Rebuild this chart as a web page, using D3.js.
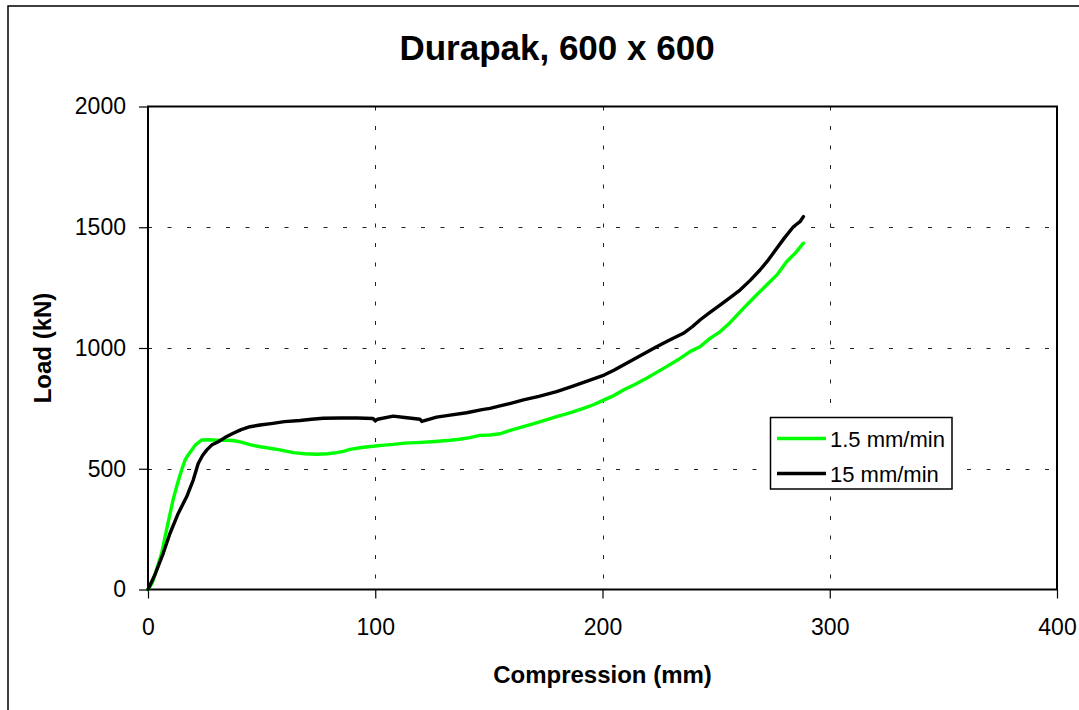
<!DOCTYPE html>
<html><head><meta charset="utf-8">
<script src="https://cdn.jsdelivr.net/npm/d3@7"></script>
<style>
html,body{margin:0;padding:0;background:#fff;}
svg{display:block;font-family:"Liberation Sans",Arial,sans-serif;}
</style></head>
<body>
<svg id="chart" width="1079" height="710"></svg>
<script>
const chartTitle = "Durapak, 600 x 600";
const xTitle = "Compression (mm)";
const yTitle = "Load (kN)";
const xTicks = [0, 100, 200, 300, 400];
const yTicks = [0, 500, 1000, 1500, 2000];
const seriesNames = ["1.5 mm/min", "15 mm/min"];
const seriesColors = ["#00ff00", "#000000"];

const slowX = [0, 2, 4, 6, 8, 11, 13, 14.8, 16.3, 17.5, 19.2, 21, 23.6, 27, 30, 34, 37.5, 41, 44.9, 49.3, 53.7, 58, 63.9, 69, 74.2, 79, 83, 86, 88.9, 94, 100, 104, 107.9, 113, 118.2, 125, 132.9, 137, 141.7, 146, 150.5, 155, 158, 165.2, 172, 179.8, 186, 191.6, 196, 200.7, 205, 209.2, 214, 219.4, 224, 228.2, 233, 238.5, 242.9, 247.3, 251.7, 256.1, 262, 267, 272.2, 277, 281, 285, 288.4];
const slowY = [0, 30, 90, 150, 240, 370, 440, 495, 536, 555, 577, 600, 619, 620, 618, 618, 617, 610, 600, 591, 585, 578, 567, 562, 560, 562, 567, 572, 580, 588, 594, 598, 601, 606, 608, 612, 618, 622, 629, 638, 640, 645, 655, 674, 693, 716, 732, 750, 765, 785, 803, 826, 848, 875, 900, 923, 950, 985, 1005, 1040, 1067, 1105, 1164, 1212, 1261, 1305, 1357, 1395, 1434];

const fastX = [0, 3, 6.7, 9.7, 13.3, 17, 19.9, 22.1, 24, 25.8, 28, 30.9, 34, 37.5, 41, 44.9, 49.3, 55, 60, 66.9, 72, 77.1, 85, 92, 99, 100, 101, 107.9, 113, 119.7, 120.5, 127, 133, 140.2, 147, 150.5, 154.9, 160, 165.2, 172, 179.8, 187, 194.5, 200.7, 205, 209.2, 216, 223.8, 230, 235.6, 239.5, 242.9, 247, 251.7, 256, 260.5, 265, 269.3, 273, 276.7, 280, 284, 286.9, 288.4];
const fastY = [0, 60, 150, 233, 315, 384, 453, 522, 555, 577, 598, 612, 630, 647, 662, 674, 681, 688, 695, 700, 705, 709, 710, 710, 708, 698, 705, 718, 712, 705, 696, 714, 722, 732, 745, 750, 760, 772, 785, 800, 819, 842, 867, 888, 908, 930, 965, 1005, 1035, 1061, 1088, 1116, 1145, 1178, 1208, 1240, 1280, 1323, 1365, 1413, 1455, 1502, 1523, 1544];

const svg = d3.select("#chart");
const W = 1079, H = 710;
const plot = {left: 148, top: 106.5, right: 1057, bottom: 589.5};

svg.append("rect").attr("width", W).attr("height", H).attr("fill", "#fff");
// outer chart frame
svg.append("rect").attr("x", 8).attr("y", 6).attr("width", 1110).attr("height", 720)
  .attr("fill", "none").attr("stroke", "#000").attr("stroke-width", 1.5);

const x = d3.scaleLinear().domain([0, 400]).range([plot.left, plot.right]);
const y = d3.scaleLinear().domain([0, 2000]).range([plot.bottom, plot.top]);

// gridlines
const grid = svg.append("g");
grid.selectAll(".hg").data(yTicks.filter(d => d > 0 && d < 2000)).join("line")
  .attr("x1", plot.left).attr("x2", plot.right)
  .attr("y1", d => Math.round(y(d)) + 0.5).attr("y2", d => Math.round(y(d)) + 0.5)
  .attr("stroke", "#222").attr("stroke-width", 1).attr("stroke-dasharray", "4,15.5");
grid.selectAll(".vg").data(xTicks.filter(d => d > 0 && d < 400)).join("line")
  .attr("y1", plot.top).attr("y2", plot.bottom)
  .attr("x1", d => Math.round(x(d)) + 0.5).attr("x2", d => Math.round(x(d)) + 0.5)
  .attr("stroke", "#222").attr("stroke-width", 1).attr("stroke-dasharray", "4,15.5");

// axes
const xAxis = d3.axisBottom(x).tickValues(xTicks).tickSize(9).tickPadding(20).tickFormat(d3.format("d"));
const yAxis = d3.axisLeft(y).tickValues(yTicks).tickSize(9).tickPadding(13).tickFormat(d3.format("d"));
const gx = svg.append("g").attr("transform", `translate(0,${plot.bottom})`).call(xAxis);
const gy = svg.append("g").attr("transform", `translate(${plot.left},0)`).call(yAxis);
[gx, gy].forEach(g => {
  g.select(".domain").remove();
  g.selectAll(".tick line").attr("stroke", "#000").attr("stroke-width", 1.2);
  g.selectAll(".tick text").attr("fill", "#000").style("font-size", "23px")
   .style("font-family", "'Liberation Sans', Arial, sans-serif");
});

// plot border
svg.append("rect").attr("x", plot.left).attr("y", plot.top)
  .attr("width", plot.right - plot.left).attr("height", plot.bottom - plot.top)
  .attr("fill", "none").attr("stroke", "#000").attr("stroke-width", 2);

// series
const line = d3.line().x(d => x(d[0])).y(d => y(d[1]));
const series = [
  d3.zip(slowX, slowY),
  d3.zip(fastX, fastY)
];
series.forEach((s, i) => {
  svg.append("path").datum(s).attr("d", line).attr("fill", "none")
    .attr("stroke", seriesColors[i]).attr("stroke-width", 3.4)
    .attr("stroke-linejoin", "round").attr("stroke-linecap", "round");
});

// titles
svg.append("text").attr("x", 557).attr("y", 60).attr("text-anchor", "middle")
  .style("font-size", "35px").style("font-weight", "bold").text(chartTitle);
svg.append("text").attr("x", (plot.left + plot.right) / 2).attr("y", 683).attr("text-anchor", "middle")
  .style("font-size", "24px").style("font-weight", "bold").text(xTitle);
svg.append("text").attr("transform", `translate(51,${(plot.top + plot.bottom) / 2}) rotate(-90)`)
  .attr("text-anchor", "middle").style("font-size", "24px").style("font-weight", "bold").text(yTitle);

// legend
const lg = svg.append("g");
lg.append("rect").attr("x", 770.5).attr("y", 417.5).attr("width", 181.5).attr("height", 71.5)
  .attr("fill", "#fff").attr("stroke", "#000").attr("stroke-width", 1.5);
const lys = [438.5, 473.5];
seriesNames.forEach((n, i) => {
  lg.append("line").attr("x1", 777).attr("x2", 826).attr("y1", lys[i]).attr("y2", lys[i])
    .attr("stroke", seriesColors[i]).attr("stroke-width", 3.4);
  lg.append("text").attr("x", 830).attr("y", lys[i] + 8).style("font-size", "22px").text(n);
});
</script>
</body></html>
